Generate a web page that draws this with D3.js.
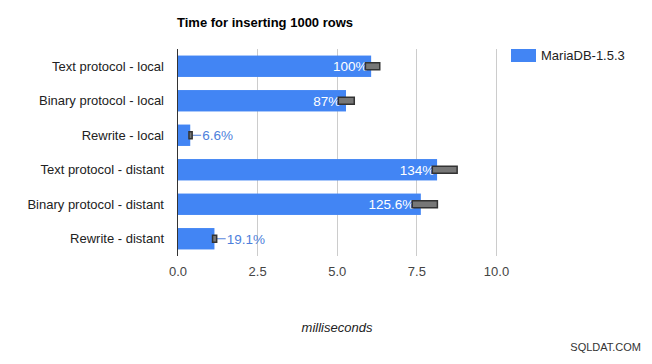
<!DOCTYPE html>
<html><head><meta charset="utf-8">
<script src="https://cdn.jsdelivr.net/npm/d3@7"></script>
<style>body{margin:0;background:#fff}svg{display:block;font-family:"Liberation Sans",Arial,sans-serif}</style>
</head><body><svg id="c" width="652" height="364"></svg>
<script>
const categories = ["Text protocol - local","Binary protocol - local","Rewrite - local","Text protocol - distant","Binary protocol - distant","Rewrite - distant"];
const values = [6.08, 5.29, 0.40, 8.15, 7.64, 1.16];
const errLow = [5.9, 5.05, 0.36, 8.0, 7.37, 1.1];
const errHigh = [6.35, 5.55, 0.46, 8.78, 8.16, 1.23];
const labels = ["100%","87%","6.6%","134%","125.6%","19.1%"];
const ticks = [0, 2.5, 5, 7.5, 10];
const seriesName = "MariaDB-1.5.3";

const svg = d3.select("#c");
const m = {l:177.5, r:496, t:49, b:256};
const x = d3.scaleLinear().domain([0,10]).range([m.l, m.r]);
const y = d3.scaleBand().domain(categories).range([m.t, m.b]).paddingInner(0.38).paddingOuter(0.19);
const blue = "#4285f4";

svg.append("text").attr("x",177).attr("y",27).attr("font-size",13).attr("font-weight","bold").attr("fill","#000").text("Time for inserting 1000 rows");

// gridlines
svg.append("g").selectAll("line").data(ticks.slice(1)).join("line")
  .attr("x1",d=>Math.round(x(d))+0.5).attr("x2",d=>Math.round(x(d))+0.5)
  .attr("y1",m.t).attr("y2",m.b).attr("stroke","#ccc");

// axis labels
const ax = svg.append("g").attr("transform",`translate(0,${m.b})`)
  .call(d3.axisBottom(x).tickValues(ticks).tickFormat(d3.format(".1f")).tickSize(0).tickPadding(11));
ax.select(".domain").remove();
ax.selectAll("text").attr("font-size",13).attr("fill","#444").attr("font-family","Liberation Sans, Arial, sans-serif");

// y labels
svg.append("g").selectAll("text").data(categories).join("text")
  .attr("x",164).attr("y",d=>y(d)+y.bandwidth()/2+4.5).attr("text-anchor","end")
  .attr("font-size",13).attr("fill","#222").text(d=>d);

// bars
svg.append("g").selectAll("rect").data(values).join("rect")
  .attr("x",x(0)).attr("y",(d,i)=>y(categories[i])).attr("width",d=>x(d)-x(0))
  .attr("height",y.bandwidth()).attr("fill",blue);

// value labels
const inside = values.map(v=>v>3);
svg.append("g").selectAll("text").data(values).join("text")
  .attr("x",(d,i)=>inside[i]? x(errLow[i])+2 : x(errHigh[i])+10)
  .attr("y",(d,i)=>y(categories[i])+y.bandwidth()/2+5)
  .attr("text-anchor",(d,i)=>inside[i]?"end":"start")
  .attr("font-size",13.5).attr("fill",(d,i)=>inside[i]?"#fff":"#4e7fdc")
  .text((d,i)=>labels[i]);

// leader lines
svg.append("g").selectAll("line").data(values.map((v,i)=>i).filter(i=>!inside[i])).join("line")
  .attr("x1",i=>x(errHigh[i])).attr("x2",i=>x(errHigh[i])+9)
  .attr("y1",i=>y(categories[i])+y.bandwidth()/2).attr("y2",i=>y(categories[i])+y.bandwidth()/2)
  .attr("stroke","#4e7fdc").attr("stroke-width",1);

// error bars
svg.append("g").selectAll("rect").data(values).join("rect")
  .attr("x",(d,i)=>x(errLow[i])).attr("width",(d,i)=>x(errHigh[i])-x(errLow[i]))
  .attr("y",(d,i)=>y(categories[i])+y.bandwidth()/2-3.5).attr("height",7)
  .attr("fill","#777").attr("stroke","#333").attr("stroke-width",1.5);

// baseline
svg.append("line").attr("x1",x(0)).attr("x2",x(0)).attr("y1",m.t).attr("y2",m.b).attr("stroke","#333");

// legend
svg.append("rect").attr("x",511).attr("y",49).attr("width",25).attr("height",13).attr("fill",blue);
svg.append("text").attr("x",541).attr("y",60).attr("font-size",13).attr("fill","#222").text(seriesName);

// x title
svg.append("text").attr("x",337).attr("y",332).attr("text-anchor","middle").attr("font-size",13)
  .attr("font-style","italic").attr("fill","#222").text("milliseconds");

// watermark
svg.append("text").attr("x",641).attr("y",351).attr("text-anchor","end").attr("font-size",11)
  .attr("fill","#333").text("SQLDAT.COM");
</script></body></html>
